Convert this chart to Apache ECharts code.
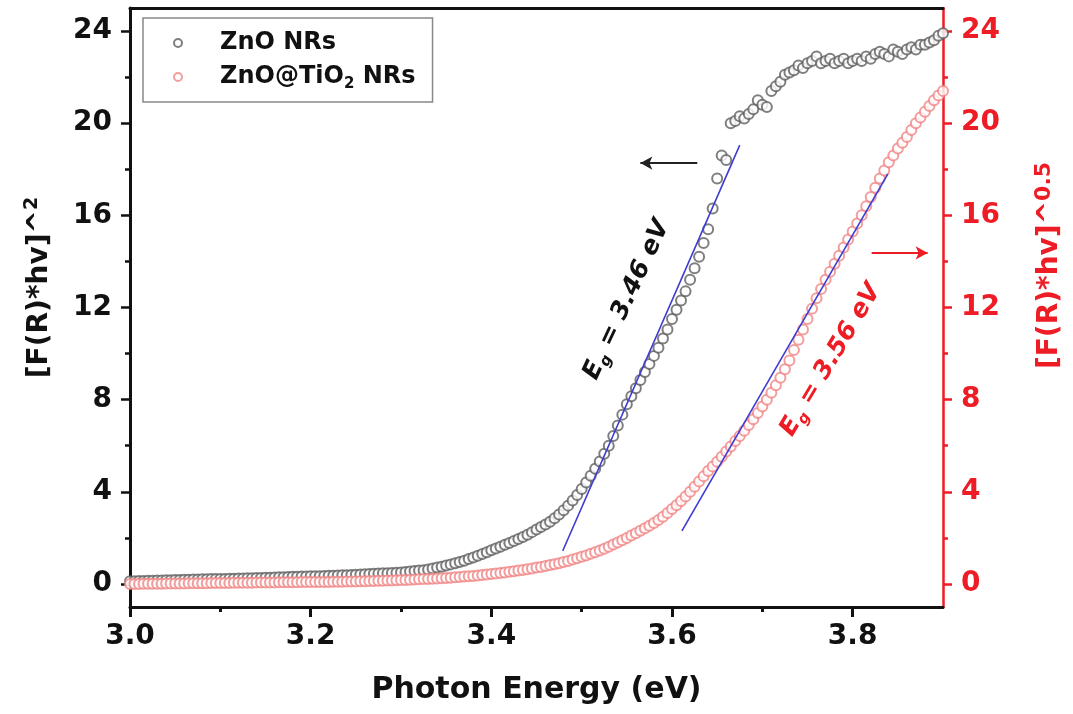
<!DOCTYPE html>
<html>
<head>
<meta charset="utf-8">
<script src="https://cdn.jsdelivr.net/npm/echarts@6/dist/echarts.min.js"></script>
<style>
html,body{margin:0;padding:0;background:#fff;}
#chart{width:1073px;height:714px;}
</style>
</head>
<body>
<div id="chart"></div>
<script>
// ---- data ----
var energy = [
3.000,3.005,3.010,3.015,3.020,3.025,3.030,3.035,3.040,3.045,
3.050,3.055,3.060,3.065,3.070,3.075,3.080,3.085,3.090,3.095,
3.100,3.105,3.110,3.115,3.120,3.125,3.130,3.135,3.140,3.145,
3.150,3.155,3.160,3.165,3.170,3.175,3.180,3.185,3.190,3.195,
3.200,3.205,3.210,3.215,3.220,3.225,3.230,3.235,3.240,3.245,
3.250,3.255,3.260,3.265,3.270,3.275,3.280,3.285,3.290,3.295,
3.300,3.305,3.310,3.315,3.320,3.325,3.330,3.335,3.340,3.345,
3.350,3.355,3.360,3.365,3.370,3.375,3.380,3.385,3.390,3.395,
3.400,3.405,3.410,3.415,3.420,3.425,3.430,3.435,3.440,3.445,
3.450,3.455,3.460,3.465,3.470,3.475,3.480,3.485,3.490,3.495,
3.500,3.505,3.510,3.515,3.520,3.525,3.530,3.535,3.540,3.545,
3.550,3.555,3.560,3.565,3.570,3.575,3.580,3.585,3.590,3.595,
3.600,3.605,3.610,3.615,3.620,3.625,3.630,3.635,3.640,3.645,
3.650,3.655,3.660,3.665,3.670,3.675,3.680,3.685,3.690,3.695,
3.700,3.705,3.710,3.715,3.720,3.725,3.730,3.735,3.740,3.745,
3.750,3.755,3.760,3.765,3.770,3.775,3.780,3.785,3.790,3.795,
3.800,3.805,3.810,3.815,3.820,3.825,3.830,3.835,3.840,3.845,
3.850,3.855,3.860,3.865,3.870,3.875,3.880,3.885,3.890,3.895,
3.900
];
var znoValues = [
0.12,0.12,0.13,0.13,0.14,0.14,0.15,0.15,0.16,0.16,
0.17,0.17,0.18,0.18,0.19,0.19,0.20,0.20,0.21,0.21,
0.22,0.22,0.23,0.23,0.24,0.24,0.25,0.25,0.26,0.26,
0.27,0.27,0.28,0.29,0.29,0.30,0.31,0.31,0.32,0.32,
0.33,0.34,0.34,0.35,0.36,0.36,0.37,0.38,0.38,0.39,
0.40,0.41,0.42,0.43,0.44,0.45,0.46,0.47,0.48,0.49,
0.50,0.52,0.54,0.56,0.58,0.60,0.63,0.67,0.71,0.75,
0.80,0.85,0.90,0.95,1.01,1.08,1.15,1.22,1.30,1.38,
1.46,1.54,1.62,1.70,1.78,1.86,1.95,2.04,2.14,2.25,
2.36,2.47,2.58,2.70,2.85,3.02,3.20,3.40,3.62,3.86,
4.12,4.40,4.70,5.00,5.32,5.65,6.00,6.42,6.88,7.35,
7.80,8.15,8.50,8.85,9.20,9.55,9.90,10.25,10.65,11.05,
11.50,11.90,12.30,12.70,13.20,13.70,14.20,14.80,15.40,16.30,
17.60,18.60,18.40,20.00,20.10,20.30,20.20,20.40,20.60,21.00,
20.80,20.70,21.40,21.60,21.80,22.10,22.20,22.30,22.50,22.40,
22.60,22.70,22.90,22.60,22.70,22.80,22.60,22.70,22.80,22.60,
22.70,22.80,22.70,22.90,22.80,23.00,23.10,23.00,22.90,23.20,
23.10,23.00,23.20,23.30,23.20,23.40,23.40,23.50,23.60,23.80,
23.90
];
var znoTiO2Values = [
0.00,0.00,0.00,0.01,0.01,0.01,0.01,0.01,0.02,0.02,
0.02,0.02,0.02,0.03,0.03,0.03,0.03,0.03,0.04,0.04,
0.04,0.04,0.04,0.05,0.05,0.05,0.05,0.05,0.06,0.06,
0.06,0.06,0.06,0.07,0.07,0.07,0.07,0.07,0.08,0.08,
0.08,0.08,0.09,0.09,0.09,0.10,0.10,0.10,0.11,0.11,
0.11,0.12,0.12,0.13,0.13,0.14,0.14,0.15,0.15,0.16,
0.17,0.17,0.18,0.19,0.20,0.21,0.22,0.23,0.24,0.25,
0.26,0.27,0.29,0.30,0.32,0.33,0.35,0.37,0.39,0.41,
0.43,0.45,0.48,0.50,0.53,0.55,0.58,0.61,0.64,0.67,
0.71,0.74,0.78,0.82,0.86,0.90,0.95,1.00,1.06,1.12,
1.18,1.24,1.31,1.38,1.45,1.53,1.62,1.71,1.80,1.90,
2.00,2.10,2.20,2.31,2.42,2.53,2.65,2.78,2.92,3.08,
3.25,3.42,3.60,3.80,4.00,4.22,4.45,4.67,4.90,5.10,
5.30,5.52,5.75,5.97,6.20,6.42,6.65,6.90,7.15,7.42,
7.70,8.00,8.30,8.62,8.95,9.32,9.70,10.15,10.60,11.05,
11.50,11.95,12.40,12.80,13.20,13.55,13.90,14.25,14.60,14.95,
15.30,15.65,16.00,16.40,16.80,17.20,17.60,17.95,18.30,18.60,
18.90,19.15,19.40,19.70,20.00,20.25,20.50,20.75,21.00,21.20,
21.40
];
// linear fits (endpoints, in axis units)
var fitZnO = [[3.479, 1.43], [3.675, 19.05]];
var fitZnOTiO2 = [[3.611, 2.30], [3.839, 17.80]];
// arrows pointing to the relevant axis
var arrowLeft = [[3.628, 18.27], [3.565, 18.27]];
var arrowRight = [[3.821, 14.37], [3.883, 14.37]];
// annotation anchors (data coords) and texts
var annZnO = [3.550, 12.33];
var annZnOTiO2 = [3.776, 9.72];
var annZnOText = '3.46 eV';
var annZnOTiO2Text = '3.56 eV';
// tick values
var xMajor = [3.0, 3.2, 3.4, 3.6, 3.8];
var xMinor = [3.1, 3.3, 3.5, 3.7];
var yMajor = [0, 4, 8, 12, 16, 20, 24];
var yMinor = [2, 6, 10, 14, 18, 22];
var seriesNames = ['ZnO NRs', 'ZnO@TiO2 NRs'];

function pairs(xs, ys) { return xs.map(function (x, i) { return [x, ys[i]]; }); }

var FONT = 'DejaVu Sans';
var BLACK = '#111111';
var RED = '#ee1c24';
var BLUE = '#3c3cd2';

var chart = echarts.init(document.getElementById('chart'), null, {renderer: 'canvas'});

function yAxisMajor(pos, color, name, nameGap, supSize, shift) {
  return {
    type: 'value', position: pos, min: -1, max: 25,
    axisLine: {show: true, onZero: false, lineStyle: {color: color, width: pos === 'left' ? 3 : 2.5}},
    axisTick: {show: true, customValues: yMajor, length: 9, lineStyle: {color: color, width: 2.5}},
    axisLabel: {show: true, customValues: yMajor, margin: 18, color: color,
      fontSize: 28, fontWeight: 'bold', fontFamily: FONT},
    splitLine: {show: false},
    name: name, nameLocation: 'middle', nameGap: nameGap, nameRotate: 90,
    nameTextStyle: {
      color: color,
      padding: [0, 0, 0, shift],
      rich: {
        m: {fontSize: 28, fontWeight: 'bold', fontFamily: FONT, color: color, lineHeight: 34},
        s: {fontSize: supSize, fontWeight: 'bold', fontFamily: FONT, color: color, lineHeight: 16, verticalAlign: 'top'}
      }
    }
  };
}
function yAxisMinor(pos, color) {
  return {
    type: 'value', position: pos, min: -1, max: 25,
    axisLine: {show: false, onZero: false},
    axisTick: {show: true, customValues: yMinor, length: 5, lineStyle: {color: color, width: 2.5}},
    axisLabel: {show: false},
    splitLine: {show: false}
  };
}

var option = {
  animation: false,
  backgroundColor: '#ffffff',
  grid: {left: 130, right: 130, top: 8, bottom: 107, containLabel: false, outerBoundsMode: 'none'},
  legend: {
    orient: 'vertical', left: 143, top: 18,
    padding: [10, 17, 10, 30],
    itemWidth: 10, itemHeight: 8, itemGap: 4,
    borderColor: '#888888', borderWidth: 1.5, backgroundColor: '#ffffff',
    data: seriesNames,
    formatter: function (n) { return n === 'ZnO@TiO2 NRs' ? 'ZnO@TiO{sub|2} NRs' : n; },
    textStyle: {
      color: BLACK, fontSize: 24, fontWeight: 'bold', fontFamily: FONT, lineHeight: 30,
      padding: [0, 0, 0, 32],
      rich: {
        sub: {fontSize: 15, fontWeight: 'bold', fontFamily: FONT, color: BLACK, lineHeight: 10, verticalAlign: 'bottom'}
      }
    }
  },
  xAxis: [
    {
      type: 'value', position: 'bottom', min: 3.0, max: 3.9,
      axisLine: {show: true, onZero: false, lineStyle: {color: BLACK, width: 3}},
      axisTick: {show: true, customValues: xMajor, length: 10, lineStyle: {color: BLACK, width: 3}},
      axisLabel: {show: true, customValues: xMajor, margin: 16, color: BLACK,
        fontSize: 28, fontWeight: 'bold', fontFamily: FONT,
        formatter: function (v) { return v.toFixed(1); }},
      splitLine: {show: false},
      name: 'Photon Energy (eV)', nameLocation: 'middle', nameGap: 68,
      nameTextStyle: {color: BLACK, fontSize: 30, fontWeight: 'bold', fontFamily: FONT}
    },
    {
      type: 'value', position: 'bottom', min: 3.0, max: 3.9,
      axisLine: {show: false, onZero: false},
      axisTick: {show: true, customValues: xMinor, length: 5, lineStyle: {color: BLACK, width: 3}},
      axisLabel: {show: false}, splitLine: {show: false}
    },
    {
      type: 'value', position: 'top', min: 3.0, max: 3.9,
      axisLine: {show: true, onZero: false, lineStyle: {color: BLACK, width: 3}},
      axisTick: {show: false}, axisLabel: {show: false}, splitLine: {show: false}
    }
  ],
  yAxis: [
    yAxisMajor('left', BLACK, '{m|[F(R)*hv]^}{s|2}', 73, 19, 40),
    yAxisMinor('left', BLACK),
    yAxisMajor('right', RED, '{m|[F(R)*hv]^}{s|0.5}', 90, 22, 84),
    yAxisMinor('right', RED)
  ],
  series: [
    {
      name: seriesNames[0], type: 'scatter', xAxisIndex: 0, yAxisIndex: 0,
      data: pairs(energy, znoValues),
      symbol: 'emptyCircle', symbolSize: 10,
      itemStyle: {color: '#5f5f5f', borderColor: '#5f5f5f', borderWidth: 1},
      z: 2
    },
    {
      name: seriesNames[1], type: 'scatter', xAxisIndex: 0, yAxisIndex: 2,
      data: pairs(energy, znoTiO2Values),
      symbol: 'emptyCircle', symbolSize: 10,
      itemStyle: {color: '#f08585', borderColor: '#f08585', borderWidth: 1},
      z: 3
    },
    {
      name: 'fit1', type: 'line', xAxisIndex: 0, yAxisIndex: 0,
      data: fitZnO, symbol: 'none', silent: true,
      lineStyle: {color: BLUE, width: 1.6}, z: 5,
      markLine: {
        silent: true, symbol: ['none', 'arrow'], symbolSize: [10, 12],
        label: {show: false},
        lineStyle: {color: '#222222', width: 2, type: 'solid'},
        data: [[{coord: arrowLeft[0]}, {coord: arrowLeft[1]}]]
      }
    },
    {
      name: 'fit2', type: 'line', xAxisIndex: 0, yAxisIndex: 2,
      data: fitZnOTiO2, symbol: 'none', silent: true,
      lineStyle: {color: BLUE, width: 1.6}, z: 5,
      markLine: {
        silent: true, symbol: ['none', 'arrow'], symbolSize: [10, 12],
        label: {show: false},
        lineStyle: {color: RED, width: 2, type: 'solid'},
        data: [[{coord: arrowRight[0]}, {coord: arrowRight[1]}]]
      }
    }
  ]
};
chart.setOption(option);

function annText(pos, yIdx, text, color, angleDeg) {
  var p = chart.convertToPixel({xAxisIndex: 0, yAxisIndex: yIdx}, pos);
  return {
    type: 'text', x: p[0], y: p[1], rotation: angleDeg * Math.PI / 180, z: 10,
    style: {
      text: '{e|E}{g|g}{e| = ' + text + '}',
      align: 'center', verticalAlign: 'middle',
      rich: {
        e: {fontSize: 25, fontWeight: 'bold', fontStyle: 'italic', fontFamily: FONT, fill: color, lineHeight: 30},
        g: {fontSize: 15, fontWeight: 'bold', fontStyle: 'italic', fontFamily: FONT, fill: color, lineHeight: 10, verticalAlign: 'bottom'}
      }
    }
  };
}
chart.setOption({
  graphic: [
    annText(annZnO, 0, annZnOText, BLACK, 65),
    annText(annZnOTiO2, 2, annZnOTiO2Text, RED, 59)
  ]
});
</script>
</body>
</html>
